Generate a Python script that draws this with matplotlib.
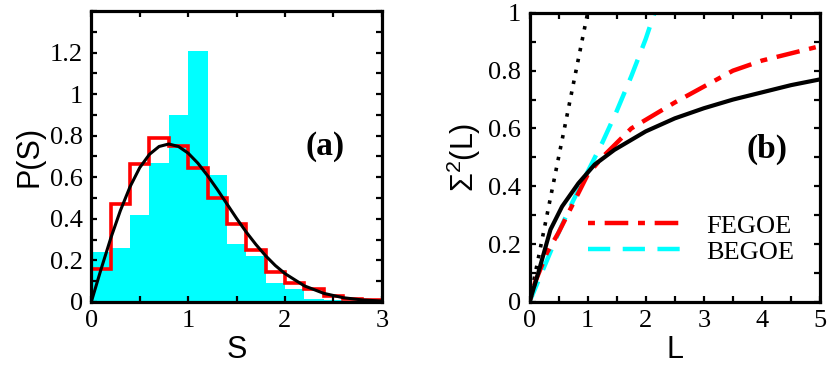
import numpy as np
import matplotlib
matplotlib.use("Agg")
import matplotlib.pyplot as plt
from matplotlib.ticker import MultipleLocator, FormatStrFormatter

# panel (a): nearest-neighbour spacing distribution
bin_edges = [0.0, 0.2, 0.4, 0.6, 0.8, 1.0, 1.2, 1.4, 1.6, 1.8, 2.0, 2.2, 2.4, 2.6, 2.8, 3.0]
cyan_hist = [0.24, 0.26, 0.42, 0.67, 0.90, 1.21, 0.61, 0.28, 0.22, 0.09, 0.06, 0.015, 0.008, 0.0, 0.0]
red_hist = [0.16, 0.47, 0.665, 0.79, 0.75, 0.645, 0.50, 0.375, 0.25, 0.145, 0.09, 0.06, 0.03, 0.015, 0.008]
wig_s = [0, 0.1, 0.2, 0.3, 0.4, 0.5, 0.6, 0.7, 0.8, 0.9, 1.0, 1.1, 1.2, 1.3, 1.4, 1.5,
         1.6, 1.7, 1.8, 1.9, 2.0, 2.2, 2.4, 2.6, 2.8, 3.0]
wig_p = [0, 0.156, 0.305, 0.439, 0.554, 0.646, 0.710, 0.748, 0.760, 0.748, 0.716, 0.668,
         0.608, 0.542, 0.472, 0.402, 0.336, 0.276, 0.222, 0.175, 0.136, 0.077, 0.041,
         0.020, 0.009, 0.004]

# panel (b): number variance
goe_L = [0, 0.15, 0.36, 0.56, 0.84, 1.12, 1.46, 2.0, 2.5, 3.0, 3.5, 4.0, 4.5, 5.0]
goe_s2 = [0, 0.10, 0.25, 0.33, 0.41, 0.475, 0.526, 0.59, 0.635, 0.67, 0.70, 0.725, 0.75, 0.77]
poi_L = [0, 1.0]
poi_s2 = [0, 1.0]
fe_L = [0, 0.1, 0.3, 0.5, 0.75, 1.0, 1.25, 1.5, 1.75, 2.0, 2.5, 3.0, 3.5, 4.0, 4.5, 5.0]
fe_s2 = [0, 0.07, 0.17, 0.24, 0.34, 0.44, 0.50, 0.55, 0.60, 0.63, 0.69, 0.745, 0.80, 0.835, 0.86, 0.885]
be_L = [0, 0.25, 0.5, 0.75, 1.0, 1.25, 1.5, 1.75, 2.0, 2.15]
be_s2 = [0, 0.12, 0.24, 0.35, 0.45, 0.55, 0.66, 0.78, 0.91, 1.0]

plt.rcParams['font.family'] = 'Liberation Serif'
plt.rcParams['lines.scale_dashes'] = False
plt.rcParams['mathtext.fontset'] = 'custom'
plt.rcParams['mathtext.rm'] = 'Liberation Sans'

serif = 'Liberation Serif'
sans = 'Liberation Sans'

fig = plt.figure(figsize=(8.3, 3.69), dpi=100)
ax1 = fig.add_axes([0.110, 0.182, 0.350, 0.788])
ax2 = fig.add_axes([0.638, 0.182, 0.350, 0.783])


def style(ax):
    for sp in ax.spines.values():
        sp.set_linewidth(2.3)
    ax.tick_params(which='both', direction='in', top=True, right=True,
                   width=1.6, length=4.5, labelsize=19, pad=6,
                   labelfontfamily=serif)


widths = np.diff(bin_edges)
ax1.bar(bin_edges[:-1], cyan_hist, width=widths, align='edge', color='#00ffff', linewidth=0)
ax1.stairs(red_hist, bin_edges, color='red', linewidth=2.6)
ax1.plot(wig_s, wig_p, color='black', linewidth=2.2)
ax1.set_xlim(0, 3)
ax1.set_ylim(0, 1.4)
ax1.set_yticks([0, 0.2, 0.4, 0.6, 0.8, 1.0, 1.2])
ax1.yaxis.set_minor_locator(MultipleLocator(0.1))
ax1.xaxis.set_major_locator(MultipleLocator(1))
ax1.xaxis.set_minor_locator(MultipleLocator(0.5))
ax1.xaxis.set_major_formatter(FormatStrFormatter('%g'))
ax1.yaxis.set_major_formatter(FormatStrFormatter('%g'))
style(ax1)
ax1.set_xlabel('S', fontsize=22, family=sans, labelpad=2)
ax1.set_ylabel('P(S)', fontsize=22, family=sans, labelpad=4)
ax1.text(0.805, 0.533, '(a)', transform=ax1.transAxes, fontsize=24,
         fontweight='bold', family=serif, ha='center', va='center')

ax2.plot(poi_L, poi_s2, color='black', linewidth=2.6, dashes=(2.5, 5.5))
ax2.plot(be_L, be_s2, color='#00ffff', linewidth=3.2, dashes=(16, 9), label='BEGOE')
ax2.plot(fe_L, fe_s2, color='red', linewidth=3.2, dashes=(5, 7, 17, 7), label='FEGOE')
ax2.plot(goe_L, goe_s2, color='black', linewidth=3.0)
ax2.set_xlim(0, 5)
ax2.set_ylim(0, 1)
ax2.xaxis.set_major_locator(MultipleLocator(1))
ax2.xaxis.set_minor_locator(MultipleLocator(0.5))
ax2.yaxis.set_major_locator(MultipleLocator(0.2))
ax2.yaxis.set_minor_locator(MultipleLocator(0.1))
ax2.xaxis.set_major_formatter(FormatStrFormatter('%g'))
ax2.yaxis.set_major_formatter(FormatStrFormatter('%g'))
style(ax2)
ax2.set_xlabel('L', fontsize=22, family=sans, labelpad=2)
ax2.set_ylabel(r'$\mathregular{Σ^{2}(L)}$', fontsize=22, family=sans, labelpad=4)
ax2.text(0.817, 0.526, '(b)', transform=ax2.transAxes, fontsize=24,
         fontweight='bold', family=serif, ha='center', va='center')

h, l = ax2.get_legend_handles_labels()
ax2.legend(h[::-1], l[::-1], loc='center left', bbox_to_anchor=(0.20, 0.218),
           frameon=False, prop={'family': serif, 'size': 19}, handlelength=3.5,
           handletextpad=1.0, labelspacing=0.1, borderpad=0, borderaxespad=0)

fig.savefig('out.png', dpi=100)
